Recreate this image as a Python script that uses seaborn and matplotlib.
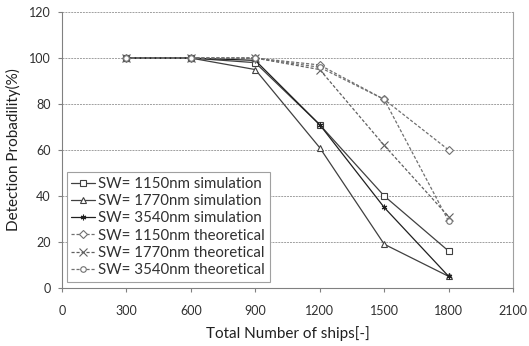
import pandas as pd
import matplotlib.pyplot as plt
import seaborn as sns

ships = [300, 600, 900, 1200, 1500, 1800]

sim_1150 = [100, 100, 98, 71, 40, 16]
sim_1770 = [100, 100, 95, 61, 19, 5]
sim_3540 = [100, 100, 99, 71, 35, 5]
theo_1150 = [100, 100, 100, 97, 82, 60]
theo_1770 = [100, 100, 100, 95, 62, 31]
theo_3540 = [100, 100, 100, 96, 82, 29]

labels = [
    "SW= 1150nm simulation",
    "SW= 1770nm simulation",
    "SW= 3540nm simulation",
    "SW= 1150nm theoretical",
    "SW= 1770nm theoretical",
    "SW= 3540nm theoretical",
]
series = [sim_1150, sim_1770, sim_3540, theo_1150, theo_1770, theo_3540]

sns.set_style("white")
plt.rcParams["font.family"] = ["Lato", "DejaVu Sans"]
plt.rcParams["text.color"] = "#303030"
plt.rcParams["axes.labelcolor"] = "#202020"

fig = plt.figure(figsize=(5.29, 3.46), dpi=100)
ax = fig.add_axes([0.117, 0.168, 0.853, 0.797])

styles = [
    dict(marker="s", ms=4.5, color="#404040", ls="-", mfc="white"),
    dict(marker="^", ms=5, color="#404040", ls="-", mfc="white"),
    dict(marker=(6, 2, 0), ms=4, color="#202020", ls="-", mfc="#202020"),
    dict(marker="D", ms=4, color="#707070", ls="--", mfc="white"),
    dict(marker="x", ms=5.5, color="#606060", ls="--", mfc="white"),
    dict(marker="o", ms=4, color="#707070", ls="--", mfc="white"),
]

for lab, vals, st in zip(labels, series, styles):
    df = pd.DataFrame({"ships": ships, "prob": vals})
    sns.lineplot(data=df, x="ships", y="prob", ax=ax, label=lab,
                 color=st["color"], linestyle=st["ls"], linewidth=0.9,
                 marker=st["marker"], markersize=st["ms"],
                 markerfacecolor=st["mfc"], markeredgecolor=st["color"],
                 markeredgewidth=0.8, dashes=False)
    ax.lines[-1].set_linestyle((0, (2.5, 1.5)) if st["ls"] == "--" else "-")

ax.set_xlim(0, 2100)
ax.set_ylim(0, 120)
ax.set_xticks(range(0, 2101, 300))
ax.set_yticks(range(0, 121, 20))
ax.yaxis.grid(True, color="#a0a0a0", linestyle=(0, (2, 1)), linewidth=0.7)
ax.set_axisbelow(True)
ax.spines["top"].set_visible(False)
ax.spines["right"].set_color("#a0a0a0")
for side in ["left", "bottom"]:
    ax.spines[side].set_color("#808080")
ax.tick_params(axis="both", direction="out", length=3, color="#808080",
               labelsize=9, width=0.8, labelcolor="#303030")
ax.tick_params(axis="x", bottom=True, pad=9)
ax.tick_params(axis="y", left=True, pad=5)

ax.set_xlabel("Total Number of ships[-]", fontsize=11, labelpad=7)
ax.set_ylabel("Detection Probadility(%)", fontsize=11, labelpad=6)

leg = ax.legend(loc="lower left", bbox_to_anchor=(0.011, 0.022),
                borderaxespad=0, fontsize=10.8,
                frameon=True, fancybox=False, framealpha=1,
                edgecolor="#a0a0a0", handlelength=1.6, handletextpad=0.2,
                labelspacing=0.22, borderpad=0.3)
leg.get_frame().set_linewidth(0.8)

plt.savefig("out.png", dpi=100)
